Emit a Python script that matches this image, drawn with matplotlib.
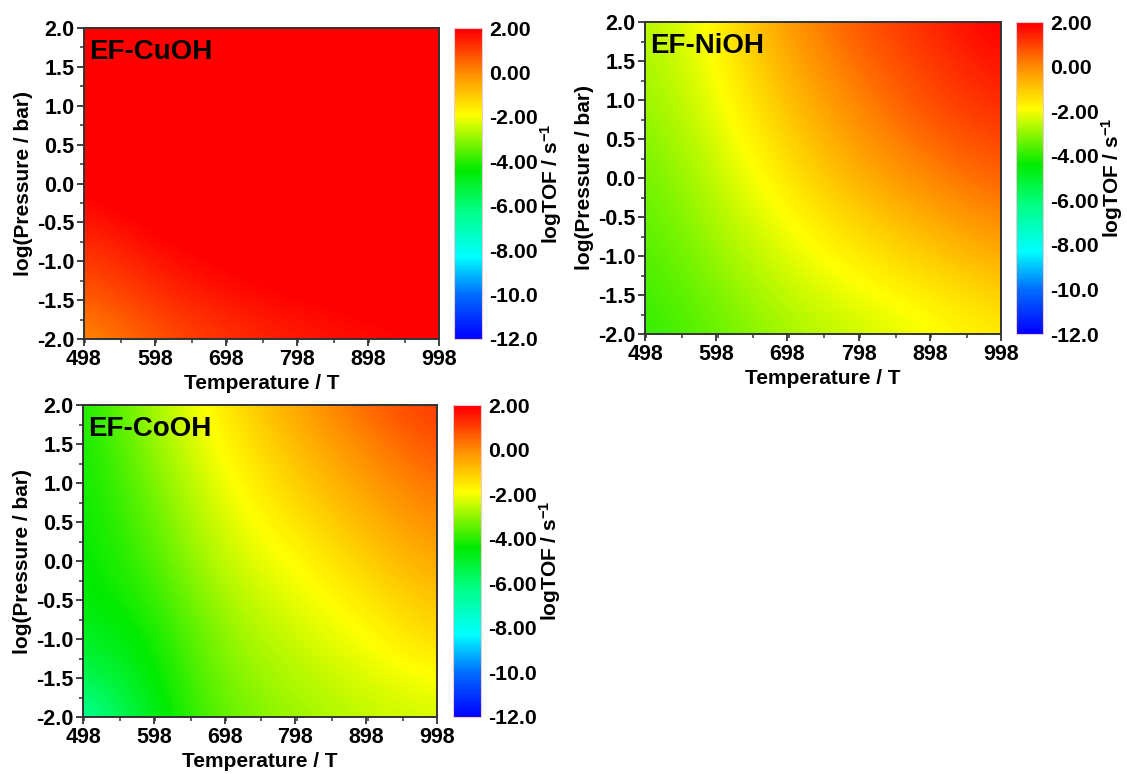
import numpy as np
import matplotlib
matplotlib.use("Agg")
import matplotlib.pyplot as plt
from matplotlib.colors import LinearSegmentedColormap, Normalize
from matplotlib.ticker import MultipleLocator, FormatStrFormatter

plt.rcParams['font.family'] = ['Liberation Sans', 'DejaVu Sans']
plt.rcParams['font.weight'] = 'bold'
plt.rcParams['mathtext.fontset'] = 'custom'
plt.rcParams['mathtext.rm'] = 'Liberation Sans:bold'
plt.rcParams['mathtext.it'] = 'Liberation Sans:bold'
plt.rcParams['mathtext.bf'] = 'Liberation Sans:bold'

# Grid of read values
temperatures = [498, 598, 698, 798, 898, 998]
log_pressures = [-2.0, -1.5, -1.0, -0.5, 0.0, 0.5, 1.0, 1.5, 2.0]

# rows: temperature 498 .. 998 ; columns: log pressure -2 .. 2
cuoh_logtof = [
    [-0.1, 0.5, 1.0, 1.5, 1.9, 2.2, 2.5, 2.8, 3.0],
    [0.7, 1.2, 1.6, 2.0, 2.3, 2.6, 2.9, 3.1, 3.3],
    [1.2, 1.6, 1.95, 2.3, 2.6, 2.9, 3.1, 3.3, 3.5],
    [1.5, 1.85, 2.2, 2.5, 2.8, 3.0, 3.2, 3.4, 3.6],
    [1.7, 2.0, 2.3, 2.6, 2.9, 3.1, 3.3, 3.5, 3.7],
    [1.9, 2.2, 2.5, 2.7, 3.0, 3.2, 3.4, 3.6, 3.8],
]
nioh_logtof = [
    [-4.0, -3.85, -3.7, -3.55, -3.4, -3.2, -3.0, -2.85, -2.7],
    [-3.4, -3.2, -2.95, -2.7, -2.5, -2.3, -2.1, -1.95, -1.85],
    [-2.8, -2.5, -2.2, -1.9, -1.55, -1.2, -0.85, -0.5, -0.15],
    [-2.4, -2.05, -1.6, -1.15, -0.6, -0.2, 0.15, 0.45, 0.7],
    [-2.0, -1.65, -1.1, -0.5, 0.05, 0.5, 0.85, 1.1, 1.35],
    [-1.6, -1.1, -0.5, 0.1, 0.6, 1.0, 1.4, 1.7, 2.0],
]
cooh_logtof = [
    [-6.9, -5.7, -5.0, -4.6, -4.5, -4.45, -4.4, -4.35, -4.3],
    [-4.6, -4.45, -4.3, -4.0, -3.7, -3.45, -3.2, -2.95, -2.75],
    [-3.4, -3.15, -2.95, -2.7, -2.4, -2.2, -2.0, -1.8, -1.55],
    [-2.9, -2.65, -2.4, -2.15, -1.9, -1.55, -1.15, -0.8, -0.4],
    [-2.5, -2.25, -1.95, -1.6, -1.15, -0.7, -0.3, 0.1, 0.5],
    [-2.3, -1.9, -1.3, -0.85, -0.4, 0.0, 0.4, 0.8, 1.2],
]
panel_names = ["EF-CuOH", "EF-NiOH", "EF-CoOH"]
cbar_ticks = [2, 0, -2, -4, -6, -8, -10, -12]
cbar_labels = ["2.00", "0.00", "-2.00", "-4.00", "-6.00", "-8.00", "-10.0", "-12.0"]
xticks = [498, 598, 698, 798, 898, 998]

vmin, vmax = -12.0, 2.0
stops = [(-12.0, (0, 0, 255)), (-10.0, (0, 110, 255)), (-8.3, (0, 255, 255)),
         (-6.2, (0, 255, 130)), (-4.4, (0, 235, 0)), (-1.9, (255, 255, 0)),
         (0.0, (255, 140, 0)), (1.9, (255, 0, 0)), (2.0, (255, 0, 0))]
cmap = LinearSegmentedColormap.from_list(
    "originrainbow",
    [((v - vmin) / (vmax - vmin), tuple(c / 255 for c in col)) for v, col in stops])
cmap.set_over((1, 0, 0))
cmap.set_under((0, 0, 1))
norm = Normalize(vmin=vmin, vmax=vmax)

W, H = 1127, 774
fig = plt.figure(figsize=(W / 100, H / 100), dpi=100)

def frac(l, t, r, b):
    return [l / W, 1 - b / H, (r - l) / W, (b - t) / H]

axes_px = [(84, 28, 439, 339), (645, 22, 1001, 334), (83, 405, 437, 717)]
cbar_px = [(454, 28, 482, 339), (1016, 22, 1043, 334), (453, 405, 481, 717)]
datas = [cuoh_logtof, nioh_logtof, cooh_logtof]

dx = (temperatures[1] - temperatures[0]) / 2
dy = (log_pressures[1] - log_pressures[0]) / 2
extent = [temperatures[0] - dx, temperatures[-1] + dx,
          log_pressures[0] - dy, log_pressures[-1] + dy]

spine_col = '#333333'
for name, data, apx, cpx in zip(panel_names, datas, axes_px, cbar_px):
    ax = fig.add_axes(frac(*apx))
    grid = np.array(data).T  # rows -> log pressure, cols -> temperature
    im = ax.imshow(grid, origin='lower', extent=extent, aspect='auto',
                   cmap=cmap, norm=norm, interpolation='bicubic',
                   interpolation_stage='data')
    ax.set_xlim(temperatures[0], temperatures[-1])
    ax.set_ylim(log_pressures[0], log_pressures[-1])
    ax.set_xticks(xticks)
    ax.xaxis.set_minor_locator(MultipleLocator(50))
    ax.yaxis.set_major_locator(MultipleLocator(0.5))
    ax.yaxis.set_minor_locator(MultipleLocator(0.25))
    ax.yaxis.set_major_formatter(FormatStrFormatter('%.1f'))
    ax.tick_params(which='major', direction='out', length=5, width=1.3,
                   labelsize=15.5, colors=spine_col, labelcolor='black', pad=2)
    ax.tick_params(which='minor', direction='out', length=3, width=1.1, colors=spine_col)
    for lab in ax.get_xticklabels() + ax.get_yticklabels():
        lab.set_fontweight('bold')
    for s in ax.spines.values():
        s.set_linewidth(1.4)
        s.set_color(spine_col)
    ax.set_xlabel("Temperature / T", fontsize=15, fontweight='bold', labelpad=3)
    ax.set_ylabel("log(Pressure / bar)", fontsize=15, fontweight='bold', labelpad=3)
    ax.text(0.015, 0.965, name, transform=ax.transAxes, ha='left', va='top',
            fontsize=20, fontweight='bold', color='black')

    cax = fig.add_axes(frac(*cpx))
    cb = fig.colorbar(im, cax=cax, orientation='vertical')
    cb.set_ticks(cbar_ticks)
    cb.set_ticklabels(cbar_labels)
    cb.ax.tick_params(length=0, labelsize=15.3, pad=5)
    for lab in cb.ax.get_yticklabels():
        lab.set_fontweight('bold')
    cb.outline.set_edgecolor('#f0c8d0')
    cb.outline.set_linewidth(0.8)
    cb.set_label(r"logTOF / s$^{-1}$", fontsize=15, fontweight='bold', labelpad=0)

fig.savefig("out.png", dpi=100)
